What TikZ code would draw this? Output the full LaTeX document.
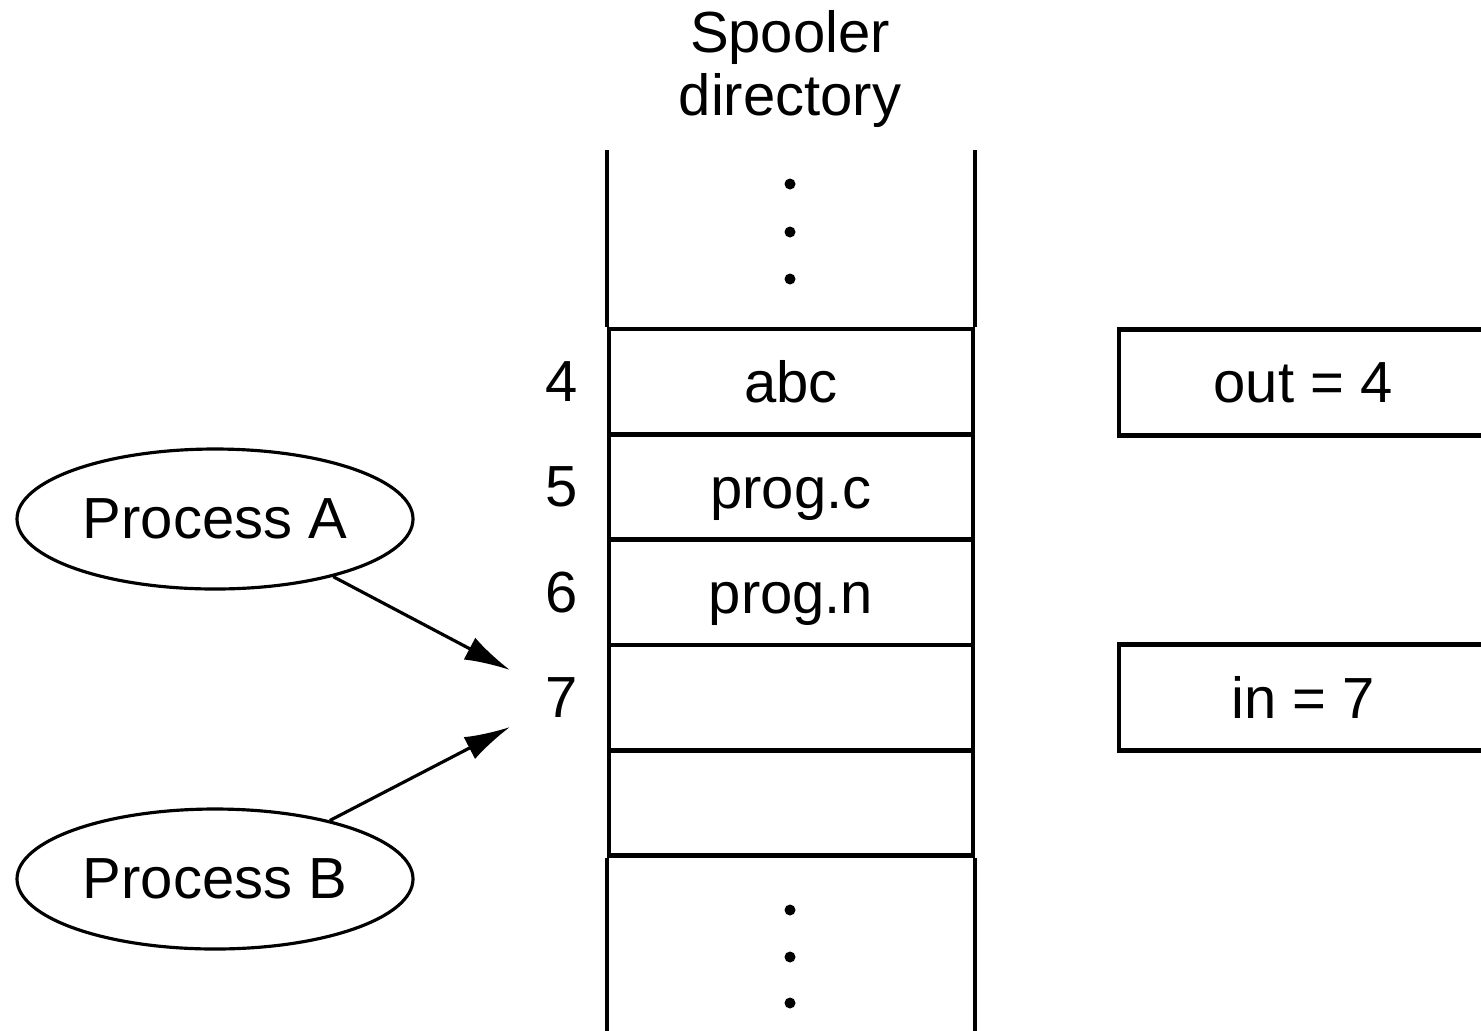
\documentclass[tikz,border=0pt]{standalone}
\usepackage{fontspec}
\setmainfont{Liberation Sans}
\usetikzlibrary{shapes.geometric,positioning,arrows.meta}
\tikzset{>={Latex[length=13pt,width=7pt]}}
\tikzset{
  slot/.style={draw,line width=1.2pt,minimum width=3.64cm,minimum height=1.05cm,inner sep=0pt,
    text height=12pt,text depth=0pt},
  slotnum/.style={inner sep=0pt},
  proc/.style={ellipse,draw,line width=0.9pt,minimum width=3.96cm,minimum height=1.4cm,inner sep=0pt},
  var/.style={draw,line width=1.2pt,minimum width=3.68cm,minimum height=1.06cm,inner sep=0pt},
  wall/.style={line width=1.2pt}
}

\begin{document}
\begin{tikzpicture}[font=\fontsize{16.5}{18}\selectfont]
  \useasboundingbox (0,0) rectangle (14.81,-10.30);
  \clip (0,0) rectangle (14.81,-10.30);
  \node[align=center] (title) at (7.90,-0.69) {Spooler\\directory};
  % spooler slots
  \node[slot] (s4) at (7.91,-3.815) {abc};
  \node[slot] (s5) at (7.91,-4.87) {prog.c};
  \node[slot] (s6) at (7.91,-5.925) {prog.n};
  \node[slot] (s7) at (7.91,-6.975) {};
  \node[slot] (s8) at (7.91,-8.03) {};
  \foreach \i in {4,...,7}
    \node[slotnum,left=0.28cm of s\i] (n\i) {\i};
  \draw[wall] (s4.north west) -- ++(0,1.77);
  \draw[wall] (s4.north east) -- ++(0,1.77);
  \draw[wall] (s8.south west) -- ++(0,-1.9);
  \draw[wall] (s8.south east) -- ++(0,-1.9);
  \foreach \y in {-1.84,-2.32,-2.79,-9.10,-9.57,-10.03}
    \fill (7.90,\y) circle (0.055);
  % shared variables
  \node[var] (outvar) at (13.03,-3.825) {out = 4};
  \node[var] (invar) at (13.03,-6.975) {in = 7};
  % processes
  \node[proc] (procA) at (2.15,-5.19) {Process A};
  \node[proc] (procB) at (2.15,-8.79) {Process B};
  \coordinate (slotA) at (5.10,-6.70);
  \coordinate (slotB) at (5.10,-7.27);
  \draw[->,line width=0.9pt] (procA.-26) -- (slotA);
  \draw[->,line width=0.9pt] (procB.27) -- (slotB);
\end{tikzpicture}
\end{document}
